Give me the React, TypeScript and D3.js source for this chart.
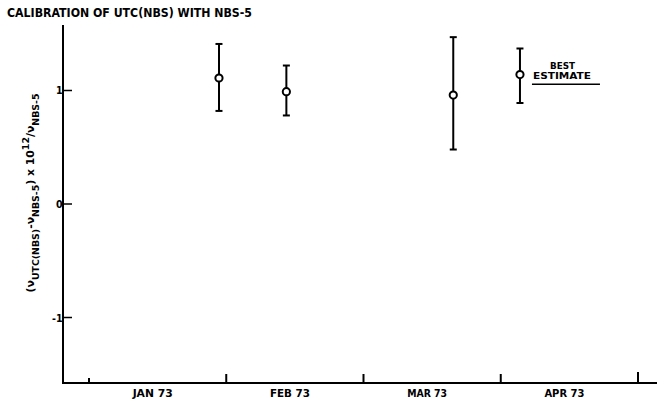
import React from 'react';
import * as d3 from 'd3';

// month positions: 0 = start of JAN 73, 1 = start of FEB 73, ...
const monthTicks = [0, 1, 2, 3, 4];
const monthLabels = ['JAN 73', 'FEB 73', 'MAR 73', 'APR 73'];
const yTicks = [-1, 0, 1];

const pointPos = [0.947, 1.438, 2.654, 3.14];
const pointValue = [1.11, 0.99, 0.96, 1.14];
const pointLow = [0.82, 0.78, 0.48, 0.89];
const pointHigh = [1.41, 1.22, 1.47, 1.37];

const W = 657, H = 402;
const font = '"DejaVu Sans Condensed", "DejaVu Sans", sans-serif';

export default function App() {
  const x = d3.scaleLinear().domain([0, 4]).range([89, 638]);
  const y = d3.scaleLinear().domain([-1.577, 1.577]).range([383, 25]);
  const axisX = 63;
  const axisY = y(-1.577);

  const tickLen = (i: number) => (i === 0 ? 5 : i === monthTicks.length - 1 ? 11 : 9);
  const best = x(pointPos[3]);

  return (
    <svg width={W} height={H} style={{ position: 'absolute', left: 0, top: 0, background: '#fff' }}
      fontFamily={font} fontWeight="bold">
      <text x={7} y={16.5} fontSize={11.5} textLength={245} lengthAdjust="spacingAndGlyphs">
        CALIBRATION OF UTC(NBS) WITH NBS-5
      </text>

      {/* axes */}
      <line x1={axisX} x2={axisX} y1={y(1.577)} y2={axisY + 1} stroke="#000" strokeWidth={2} />
      <line x1={axisX - 1} x2={W} y1={axisY} y2={axisY} stroke="#000" strokeWidth={2} />

      {yTicks.map(t => (
        <g key={t}>
          <line x1={axisX} x2={axisX + 9} y1={y(t)} y2={y(t)} stroke="#000" strokeWidth={1.5} />
          <text x={axisX - 0.5} y={y(t) + 4} fontSize={10.5} textAnchor="end">{t}</text>
        </g>
      ))}

      {monthTicks.map((m, i) => (
        <line key={m} x1={x(m)} x2={x(m)} y1={axisY} y2={axisY - tickLen(i)} stroke="#000" strokeWidth={2} />
      ))}
      {monthLabels.map((l, i) => (
        <text key={l} x={(x(i) + x(i + 1)) / 2 - 5} y={397} fontSize={10.5} textAnchor="middle"
          textLength={40} lengthAdjust="spacingAndGlyphs">{l}</text>
      ))}

      {/* y label */}
      <text transform={`translate(34,${193}) rotate(-90)`} fontSize={11} textAnchor="middle"
        textLength={199} lengthAdjust="spacingAndGlyphs">
        <tspan>(ν</tspan>
        <tspan dy={5} fontSize={9.5}>UTC(NBS)</tspan>
        <tspan dy={-5}>-ν</tspan>
        <tspan dy={5} fontSize={9.5}>NBS-5</tspan>
        <tspan dy={-5}>) x 10</tspan>
        <tspan dy={-5} fontSize={9.5}>12</tspan>
        <tspan dy={5}>/ν</tspan>
        <tspan dy={5} fontSize={9.5}>NBS-5</tspan>
      </text>

      {/* error bars */}
      {pointPos.map((p, i) => {
        const cx = x(p);
        return (
          <g key={i} stroke="#000" strokeWidth={2} fill="none">
            <line x1={cx} x2={cx} y1={y(pointHigh[i])} y2={y(pointLow[i])} />
            <line x1={cx - 3.5} x2={cx + 3.5} y1={y(pointHigh[i])} y2={y(pointHigh[i])} />
            <line x1={cx - 3.5} x2={cx + 3.5} y1={y(pointLow[i])} y2={y(pointLow[i])} />
            <circle cx={cx} cy={y(pointValue[i])} r={3.6} fill="#fff" strokeWidth={2} />
          </g>
        );
      })}

      {/* best estimate label */}
      <text x={best + 42.5} y={69} fontSize={9.5} textAnchor="middle" textLength={25} lengthAdjust="spacingAndGlyphs">BEST</text>
      <text x={best + 42} y={79.3} fontSize={9.5} textAnchor="middle" textLength={58} lengthAdjust="spacingAndGlyphs">ESTIMATE</text>
      <line x1={best + 12} x2={best + 80} y1={84.3} y2={84.3} stroke="#000" strokeWidth={1.5} />
    </svg>
  );
}
